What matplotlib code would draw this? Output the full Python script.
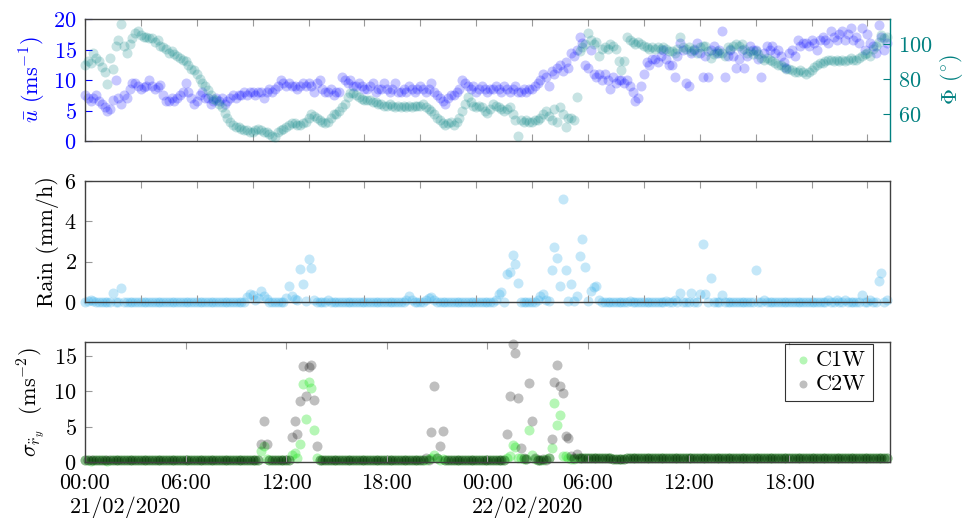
import numpy as np
import matplotlib
matplotlib.use('Agg')
import matplotlib.pyplot as plt

plt.rcParams['font.family'] = 'serif'
plt.rcParams['font.serif'] = ['cmr10']
plt.rcParams['mathtext.fontset'] = 'cm'
plt.rcParams['axes.formatter.use_mathtext'] = True
plt.rcParams['axes.unicode_minus'] = False
plt.rcParams['font.size'] = 16

# 10-minute samples, 21/02/2020 00:00 -> 22/02/2020 23:50 (hours since start)
hours = np.arange(288) / 6

# mean wind speed (m/s), one row per hour
u_bar = [
    7.5, 7.0, 6.5, 7.0, 7.5, 6.5,
    6.0, 5.5, 5.0, 5.2, 6.8, 10.0,
    7.0, 6.0, 7.5, 7.0, 8.5, 9.5,
    9.5, 9.0, 8.5, 8.8, 9.0, 10.0,
    9.0, 8.5, 8.8, 9.2, 7.5, 6.5,
    6.5, 7.0, 6.5, 7.0, 7.5, 8.0,
    9.5, 8.0, 7.0, 6.0, 6.5, 7.5,
    8.0, 7.0, 7.0, 6.0, 6.5, 7.0,
    6.5, 7.0, 6.0, 6.5, 7.0, 7.5,
    7.0, 7.5, 7.5, 8.0, 7.5, 8.0,
    8.0, 7.5, 8.0, 8.0, 7.0, 8.0,
    8.5, 8.0, 8.5, 9.0, 10.0, 9.5,
    9.0, 9.5, 9.0, 9.0, 8.5, 9.0,
    9.5, 9.0, 9.5, 9.0, 8.0, 9.5,
    10.0, 8.5, 8.0, 8.0, 8.5, 7.5,
    8.0, 8.0, 10.5, 10.0, 9.5, 10.0,
    9.0, 9.0, 9.5, 9.0, 8.5, 8.5,
    9.0, 9.5, 8.0, 8.5, 8.5, 9.5,
    8.5, 8.0, 8.5, 9.5, 8.0, 8.0,
    8.5, 8.0, 9.0, 8.5, 8.0, 8.5,
    9.0, 8.5, 8.0, 8.5, 9.5, 8.0,
    7.5, 7.0, 6.5, 6.0, 7.0, 7.5,
    7.5, 8.0, 8.5, 10.0, 9.5, 9.0,
    8.5, 9.0, 8.0, 8.5, 9.0, 8.5,
    8.0, 8.5, 8.5, 9.0, 8.5, 8.0,
    9.0, 8.5, 8.0, 8.5, 9.0, 8.0,
    8.0, 8.5, 8.0, 8.5, 8.5, 9.0,
    9.5, 10.0, 11.0, 10.5, 9.0, 11.5,
    11.0, 12.0, 12.5, 11.5, 13.0, 12.0,
    14.5, 14.0, 15.0, 17.0, 16.0, 12.5,
    12.0, 15.0, 11.0, 10.5, 11.0, 10.0,
    11.0, 10.0, 8.5, 10.5, 9.5, 10.0,
    10.0, 9.5, 10.0, 9.0, 8.0, 6.5,
    7.0, 9.0, 11.0, 13.0, 12.5, 13.5,
    13.5, 13.0, 14.0, 15.0, 13.5, 12.5,
    12.5, 10.5, 14.0, 16.0, 15.0, 9.5,
    9.0, 14.5, 15.0, 16.0, 14.5, 10.5,
    14.0, 10.5, 15.0, 15.5, 14.5, 15.0,
    18.0, 10.5, 14.0, 15.0, 14.0, 12.0,
    13.5, 15.0, 12.0, 14.0, 15.5, 15.0,
    15.0, 13.5, 10.5, 14.5, 15.5, 15.0,
    15.5, 14.5, 15.0, 14.0, 13.0, 12.0,
    14.5, 15.0, 14.0, 16.5, 15.5, 16.0,
    16.0, 15.5, 16.5, 16.0, 15.0, 16.5,
    17.0, 16.5, 16.0, 18.0, 17.0, 16.5,
    17.5, 18.0, 16.5, 17.5, 18.5, 16.5,
    17.0, 16.0, 18.5, 15.0, 17.5, 16.0,
    15.5, 14.5, 19.0, 17.0, 15.0, 16.0,
]

# wind direction (deg)
phi = [
    88, 90, 89, 95, 92, 90,
    87, 84, 77, 92, 86, 99,
    102, 111, 99, 95, 100, 103,
    106, 107, 105, 104, 104, 103,
    103, 101, 102, 99, 98, 97,
    95, 96, 94, 93, 92, 91,
    90, 88, 86, 85, 83, 80,
    78, 76, 74, 71, 69, 68,
    66, 64, 61, 58, 56, 54,
    53, 53, 52, 51, 51, 50,
    50, 51, 52, 51, 50, 50,
    49, 48, 47, 50, 51, 52,
    53, 54, 55, 55, 54, 54,
    55, 56, 58, 60, 59, 58,
    57, 56, 55, 56, 58, 60,
    60, 62, 64, 66, 70, 72,
    72, 71, 70, 69, 68, 68,
    68, 67, 67, 66, 66, 65,
    65, 66, 65, 64, 65, 64,
    65, 64, 65, 64, 65, 65,
    65, 66, 64, 63, 62, 60,
    58, 57, 55, 54, 55, 56,
    54, 56, 58, 62, 66, 70,
    67, 65, 64, 65, 64, 62,
    61, 63, 66, 65, 64, 63,
    62, 63, 64, 60, 57, 48,
    57, 56, 57, 56, 56, 57,
    57, 58, 60, 62, 59, 57,
    63, 56, 64, 60, 53, 58,
    58, 57, 70, 96, 98, 100,
    106, 102, 100, 101, 93, 97,
    98, 97, 100, 99, 97, 90,
    85, 90, 104, 102, 101, 100,
    101, 100, 99, 98, 97, 98,
    97, 98, 97, 98, 97, 96,
    96, 95, 97, 104, 98, 97,
    98, 96, 97, 95, 98, 99,
    99, 96, 92, 94, 96, 95,
    95, 93, 98, 97, 99, 100,
    99, 100, 97, 95, 96, 94,
    96, 94, 92, 91, 92, 91,
    90, 89, 88, 88, 87, 86,
    86, 85, 84, 84, 85, 84,
    83, 84, 85, 87, 88, 89,
    89, 90, 91, 91, 90, 91,
    90, 91, 90, 91, 92, 91,
    91, 92, 93, 94, 95, 93,
    97, 99, 101, 105, 103, 104,
]

# rain rate (mm/h)
rain = [
    0, 0.05, 0.1, 0.05, 0, 0,
    0, 0, 0, 0, 0.45, 0,
    0, 0.7, 0, 0, 0, 0,
    0, 0, 0, 0, 0, 0,
    0, 0, 0, 0, 0, 0,
    0, 0, 0, 0, 0, 0,
    0, 0, 0, 0, 0, 0,
    0, 0, 0, 0, 0, 0,
    0, 0, 0, 0, 0, 0,
    0, 0, 0, 0, 0.25, 0.4,
    0.35, 0.1, 0.2, 0.55, 0.3, 0.15,
    0, 0, 0, 0, 0, 0,
    0.2, 0.8, 0.3, 0.15, 0.1, 1.65,
    0.9, 0.05, 2.15, 1.7, 0.1, 0,
    0, 0, 0, 0.1, 0, 0,
    0, 0, 0, 0, 0, 0,
    0, 0, 0, 0, 0, 0,
    0, 0, 0, 0, 0, 0,
    0, 0, 0, 0, 0, 0,
    0, 0.1, 0.3, 0.1, 0, 0,
    0, 0, 0.1, 0.2, 0.25, 0.1,
    0, 0, 0, 0, 0, 0,
    0, 0, 0, 0, 0, 0,
    0, 0, 0, 0, 0, 0,
    0, 0, 0, 0.1, 0.4, 0.5,
    0, 1.4, 1.5, 2.35, 1.9, 0.95,
    0, 0, 0, 0, 0, 0,
    0.1, 0.3, 0.4, 0.1, 0.05, 1.6,
    2.75, 2.2, 0.8, 5.1, 1.6, 0.05,
    0.9, 0.05, 0.3, 2.3, 3.1, 1.75,
    0.05, 0.55, 0.75, 0.8, 0.1, 0,
    0, 0, 0, 0, 0, 0,
    0, 0, 0, 0.05, 0, 0,
    0, 0, 0, 0, 0, 0,
    0, 0, 0, 0, 0.05, 0,
    0, 0.1, 0, 0.45, 0, 0,
    0, 0.45, 0, 0, 0.4, 2.9,
    0.4, 0, 1.2, 0, 0, 0,
    0.35, 0, 0, 0, 0, 0,
    0, 0, 0, 0, 0, 0,
    1.6, 0, 0, 0.1, 0, 0,
    0, 0, 0, 0, 0, 0,
    0, 0, 0, 0, 0, 0,
    0, 0, 0, 0, 0, 0,
    0, 0, 0.1, 0, 0, 0.1,
    0, 0, 0.1, 0, 0, 0,
    0, 0, 0.35, 0, 0, 0.1,
    0, 0, 1.05, 1.45, 0, 0.1,
]

# std of lateral acceleration (m/s^2), C1W
c1w = [
    0.3, 0.3, 0.2, 0.3, 0.3, 0.3,
    0.3, 0.3, 0.2, 0.3, 0.3, 0.3,
    0.3, 0.3, 0.3, 0.3, 0.3, 0.3,
    0.3, 0.3, 0.3, 0.3, 0.3, 0.3,
    0.3, 0.3, 0.3, 0.3, 0.3, 0.3,
    0.3, 0.3, 0.3, 0.3, 0.3, 0.3,
    0.3, 0.3, 0.3, 0.3, 0.3, 0.3,
    0.3, 0.3, 0.3, 0.3, 0.3, 0.3,
    0.3, 0.3, 0.3, 0.3, 0.3, 0.3,
    0.3, 0.3, 0.3, 0.3, 0.3, 0.3,
    0.3, 0.3, 0.3, 1.5, 2.3, 0.4,
    0.3, 0.3, 0.3, 0.3, 0.3, 0.3,
    0.3, 0.3, 1.0, 1.3, 0.5, 2.5,
    11.0, 6.1, 11.4, 10.5, 4.5, 0.5,
    0.3, 0.3, 0.3, 0.3, 0.3, 0.3,
    0.3, 0.3, 0.3, 0.3, 0.3, 0.3,
    0.3, 0.3, 0.3, 0.3, 0.3, 0.3,
    0.3, 0.3, 0.3, 0.3, 0.3, 0.3,
    0.3, 0.3, 0.3, 0.3, 0.3, 0.3,
    0.3, 0.3, 0.3, 0.3, 0.3, 0.3,
    0.3, 0.3, 0.3, 0.4, 0.5, 1.05,
    0.6, 0.3, 0.4, 0.3, 0.3, 0.3,
    0.3, 0.3, 0.3, 0.3, 0.3, 0.3,
    0.3, 0.3, 0.3, 0.3, 0.3, 0.3,
    0.3, 0.3, 0.3, 0.3, 0.3, 0.3,
    0.3, 0.5, 0.9, 2.4, 2.1, 0.6,
    0.5, 0.4, 0.4, 4.6, 1.0, 0.4,
    0.3, 0.3, 0.3, 0.4, 0.5, 2.0,
    8.3, 5.3, 6.7, 0.8, 0.8, 0.5,
    0.4, 0.4, 0.5, 0.6, 0.6, 0.5,
    0.5, 0.5, 0.5, 0.5, 0.5, 0.5,
    0.5, 0.5, 0.5, 0.4, 0.4, 0.4,
    0.4, 0.4, 0.5, 0.5, 0.5, 0.5,
    0.5, 0.5, 0.5, 0.5, 0.5, 0.5,
    0.5, 0.5, 0.5, 0.5, 0.5, 0.5,
    0.5, 0.5, 0.5, 0.5, 0.5, 0.5,
    0.5, 0.5, 0.5, 0.5, 0.5, 0.5,
    0.5, 0.5, 0.5, 0.5, 0.5, 0.5,
    0.5, 0.5, 0.5, 0.5, 0.5, 0.5,
    0.5, 0.5, 0.5, 0.5, 0.5, 0.5,
    0.5, 0.5, 0.5, 0.5, 0.5, 0.5,
    0.5, 0.5, 0.5, 0.5, 0.5, 0.5,
    0.5, 0.5, 0.5, 0.5, 0.5, 0.5,
    0.5, 0.5, 0.5, 0.5, 0.5, 0.5,
    0.5, 0.5, 0.5, 0.5, 0.5, 0.5,
    0.5, 0.5, 0.5, 0.5, 0.5, 0.5,
    0.5, 0.5, 0.5, 0.5, 0.5, 0.5,
    0.5, 0.5, 0.5, 0.5, 0.5, 0.5,
]

# C2W
c2w = [
    0.3, 0.3, 0.3, 0.3, 0.3, 0.3,
    0.3, 0.3, 0.3, 0.3, 0.3, 0.3,
    0.3, 0.3, 0.3, 0.3, 0.3, 0.3,
    0.3, 0.3, 0.3, 0.3, 0.3, 0.3,
    0.3, 0.3, 0.3, 0.3, 0.3, 0.3,
    0.3, 0.3, 0.3, 0.3, 0.3, 0.3,
    0.3, 0.3, 0.3, 0.3, 0.3, 0.3,
    0.3, 0.3, 0.3, 0.3, 0.3, 0.3,
    0.3, 0.3, 0.3, 0.3, 0.3, 0.3,
    0.3, 0.3, 0.3, 0.3, 0.3, 0.3,
    0.3, 0.3, 0.3, 2.6, 5.8, 2.5,
    0.3, 0.3, 0.3, 0.3, 0.3, 0.3,
    0.3, 0.3, 3.6, 5.8, 3.9, 8.7,
    13.6, 9.3, 13.4, 13.7, 8.75, 2.3,
    0.3, 0.3, 0.3, 0.3, 0.3, 0.3,
    0.3, 0.3, 0.3, 0.3, 0.3, 0.3,
    0.3, 0.3, 0.3, 0.3, 0.3, 0.3,
    0.3, 0.3, 0.3, 0.3, 0.3, 0.3,
    0.3, 0.3, 0.3, 0.3, 0.3, 0.3,
    0.3, 0.3, 0.3, 0.3, 0.3, 0.3,
    0.3, 0.3, 0.6, 0.3, 4.2, 10.8,
    0.5, 2.2, 4.45, 0.3, 0.3, 0.3,
    0.3, 0.3, 0.3, 0.3, 0.3, 0.3,
    0.3, 0.3, 0.3, 0.3, 0.3, 0.3,
    0.3, 0.3, 0.3, 0.3, 0.3, 0.3,
    0.3, 3.9, 9.4, 16.7, 15.4, 9.0,
    2.0, 0.5, 0.4, 11.25, 5.8, 0.5,
    0.3, 0.3, 0.4, 0.3, 0.5, 3.2,
    11.4, 13.7, 10.7, 9.8, 3.7, 3.4,
    0.8, 0.5, 1.2, 0.6, 0.5, 0.5,
    0.5, 0.5, 0.5, 0.5, 0.5, 0.5,
    0.5, 0.5, 0.5, 0.4, 0.4, 0.4,
    0.4, 0.4, 0.5, 0.5, 0.5, 0.5,
    0.5, 0.5, 0.5, 0.5, 0.5, 0.5,
    0.5, 0.5, 0.5, 0.5, 0.5, 0.5,
    0.5, 0.5, 0.5, 0.5, 0.5, 0.5,
    0.5, 0.5, 0.5, 0.5, 0.5, 0.5,
    0.5, 0.5, 0.5, 0.5, 0.5, 0.5,
    0.5, 0.5, 0.5, 0.5, 0.5, 0.5,
    0.5, 0.5, 0.5, 0.5, 0.5, 0.5,
    0.5, 0.5, 0.5, 0.5, 0.5, 0.5,
    0.5, 0.5, 0.5, 0.5, 0.5, 0.5,
    0.5, 0.5, 0.5, 0.5, 0.5, 0.5,
    0.5, 0.5, 0.5, 0.5, 0.5, 0.5,
    0.5, 0.5, 0.5, 0.5, 0.5, 0.5,
    0.5, 0.5, 0.5, 0.5, 0.5, 0.5,
    0.5, 0.5, 0.5, 0.5, 0.5, 0.5,
    0.5, 0.5, 0.5, 0.5, 0.5, 0.5,
]

time_ticks = [0, 6, 12, 18, 24, 30, 36, 42]
time_labels = ['00:00', '06:00', '12:00', '18:00', '00:00', '06:00', '12:00', '18:00']
date_ticks = [0, 24]
date_labels = ['21/02/2020', '22/02/2020']

spine_col = '#404040'
tick_col = '#999999'
ms = 52

fig = plt.figure(figsize=(9.72, 5.18), dpi=100)
ax1 = fig.add_axes([0.0874, 0.7278, 0.828, 0.2355])
ax2 = fig.add_axes([0.0874, 0.417, 0.828, 0.2336])
ax3 = fig.add_axes([0.0874, 0.1081, 0.828, 0.2317])

for ax in (ax1, ax2, ax3):
    ax.set_xlim(0, 48)
    for s in ax.spines.values():
        s.set_color(spine_col)
        s.set_linewidth(1.0)
    ax.tick_params(axis='x', direction='in', top=True, bottom=True,
                   length=5, width=0.8, color=tick_col)
    ax.tick_params(axis='y', direction='in', length=5, width=0.8,
                   color=tick_col, pad=6)

# top panel: wind speed + direction
ax1.scatter(hours, u_bar, s=ms, color='blue', alpha=0.22, linewidths=0, clip_on=False)
ax1.set_ylim(0, 20)
ax1.set_yticks([0, 5, 10, 15, 20])
ax1.tick_params(axis='y', colors='blue', labelcolor='blue')
ax1.set_ylabel(r'$\bar{u}$ (ms$^{-1}$)', color='blue')
ax1.spines['right'].set_visible(False)
ax1.set_xticks(np.arange(0, 48, 10 / 3))
ax1.set_xticklabels([])

ax1b = ax1.twinx()
ax1b.scatter(hours, phi, s=ms, color='#008080', alpha=0.22, linewidths=0, clip_on=False)
ax1b.set_ylim(45, 114)
ax1b.set_yticks([60, 80, 100])
ax1b.tick_params(axis='y', direction='in', length=5, width=0.8,
                 colors='#008080', labelcolor='#008080', pad=6)
ax1b.set_ylabel(r'$\Phi$ ($^{\circ}$)', color='#008080')
for k in ('left', 'top', 'bottom'):
    ax1b.spines[k].set_visible(False)
ax1b.spines['right'].set_color('#008080')
ax1b.spines['right'].set_linewidth(1.0)

# middle panel: rain
ax2.scatter(hours, rain, s=ms, color='#3eb2eb', alpha=0.3, linewidths=0, clip_on=False)
ax2.set_ylim(0, 6)
ax2.set_yticks([0, 2, 4, 6])
ax2.set_ylabel('Rain (mm/h)')
ax2.set_xticks(np.arange(0, 48, 10 / 3))
ax2.set_xticklabels([])

# bottom panel: acceleration std
ax3.scatter(hours, c1w, s=ms, color='#22e622', alpha=0.33, linewidths=0,
            clip_on=False, label='C1W')
ax3.scatter(hours, c2w, s=ms, color='black', alpha=0.25, linewidths=0,
            clip_on=False, label='C2W')
ax3.set_ylim(0, 17)
ax3.set_yticks([0, 5, 10, 15])
ax3.set_ylabel(r'$\sigma_{\ddot{r}_y}$  (ms$^{-2}$)')
ax3.set_xticks(time_ticks)
ax3.set_xticklabels(time_labels)
ax3.tick_params(axis='x', pad=8.5)
for t, lab in zip(date_ticks, date_labels):
    ax3.annotate(lab, xy=(t, 0), xycoords=('data', 'axes fraction'),
                 xytext=(29, -33), textcoords='offset points',
                 ha='center', va='center')

leg = ax3.legend(loc='upper right', bbox_to_anchor=(0.979, 0.983),
                 borderaxespad=0, fancybox=False, handletextpad=0.1,
                 borderpad=0.3, labelspacing=0.2, handlelength=1.0,
                 markerscale=0.8)
leg.get_frame().set_edgecolor('black')
leg.get_frame().set_linewidth(0.8)

fig.savefig('out.png', dpi=100)
